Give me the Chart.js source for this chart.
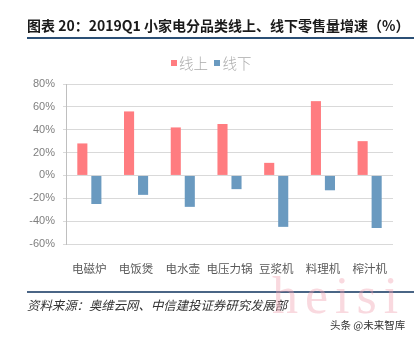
<!DOCTYPE html>
<html>
<head>
<meta charset="utf-8">
<script src="https://cdn.jsdelivr.net/npm/chart.js@4/dist/chart.umd.min.js"></script>
<style>
  html, body { margin: 0; padding: 0; background: #fff; }
  #wrap { position: relative; width: 414px; height: 340px; overflow: hidden; font-family: "Noto Sans CJK SC", sans-serif; }
  #chart { position: absolute; left: 0; top: 0; }
  .abs { position: absolute; white-space: nowrap; }
  #title { left: 27px; top: 15px; font-size: 14px; font-weight: bold; color: #1a1a1a; }
  #rule-top { left: 27px; top: 37px; width: 387px; height: 2px; background: #2b4f75; }
  #legend { left: 171px; top: 52px; font-size: 14.5px; font-weight: 300; color: #ababab; }
  #legend i { display: inline-block; width: 6px; height: 6px; margin-right: 2px; vertical-align: 3px; }
  #rule-bottom { left: 27px; top: 291px; width: 387px; height: 1.5px; background: #4a6585; }
  #source { left: 27px; top: 296px; font-size: 12.4px; font-style: italic; color: #333; }
  #mark { left: 272px; top: 266px; font-size: 52px; color: rgba(240, 160, 175, 0.4); font-family: "Liberation Serif", serif; letter-spacing: 7px; }
  #credit { left: 330px; top: 317px; font-size: 10.5px; color: #333; }
</style>
</head>
<body>
<div id="wrap">
  <canvas id="chart" width="414" height="340"></canvas>
  <div class="abs" id="title">图表 20：2019Q1 小家电分品类线上、线下零售量增速（%）</div>
  <div class="abs" id="rule-top"></div>
  <div class="abs" id="legend"><i style="background:#ff7c80"></i>线上 &nbsp;<i style="background:#6a9ac0"></i>线下</div>
  <div class="abs" id="rule-bottom"></div>
  <div class="abs" id="source">资料来源：奥维云网、中信建投证券研究发展部</div>
  <div class="abs" id="mark">heisi</div>
  <div class="abs" id="credit">头条 @未来智库</div>
</div>
<script>
const CATEGORIES = ['电磁炉', '电饭煲', '电水壶', '电压力锅', '豆浆机', '料理机', '榨汁机'];
const ONLINE = [28, 56, 42, 45, 11, 65, 30];
const OFFLINE = [-25, -17, -27.5, -12, -45, -13, -46];
const SERIES_NAMES = ['线上', '线下'];
const COLORS = ['#ff7c80', '#6a9ac0'];

const barStyle = { categoryPercentage: 0.6, barPercentage: 0.72 };

new Chart(document.getElementById('chart'), {
  type: 'bar',
  data: {
    labels: CATEGORIES,
    datasets: [
      { label: SERIES_NAMES[0], data: ONLINE, backgroundColor: COLORS[0], ...barStyle },
      { label: SERIES_NAMES[1], data: OFFLINE, backgroundColor: COLORS[1], ...barStyle },
    ],
  },
  options: {
    responsive: false,
    animation: false,
    layout: { padding: { top: 84, right: 21, left: 0, bottom: 0 } },
    plugins: { legend: { display: false }, tooltip: { enabled: false } },
    scales: {
      x: {
        grid: { display: false },
        border: { display: false },
        ticks: {
          color: '#595959',
          padding: 10,
          autoSkip: false,
          minRotation: 0,
          maxRotation: 0,
          font: { size: 11.5, family: '"Noto Sans CJK SC"' },
        },
        afterFit: (scale) => { scale.height = 96; },
      },
      y: {
        min: -60,
        max: 80,
        ticks: {
          stepSize: 20,
          color: '#7f7f7f',
          padding: 8,
          font: { size: 11, family: '"Liberation Sans", Arial' },
          callback: (v) => `${v}%`,
        },
        grid: { color: '#d9d9d9', drawTicks: true, tickLength: 3 },
        border: { display: true, color: '#bfbfbf' },
        afterFit: (scale) => { scale.width = 66; },
      },
    },
  },
});
</script>
</body>
</html>
